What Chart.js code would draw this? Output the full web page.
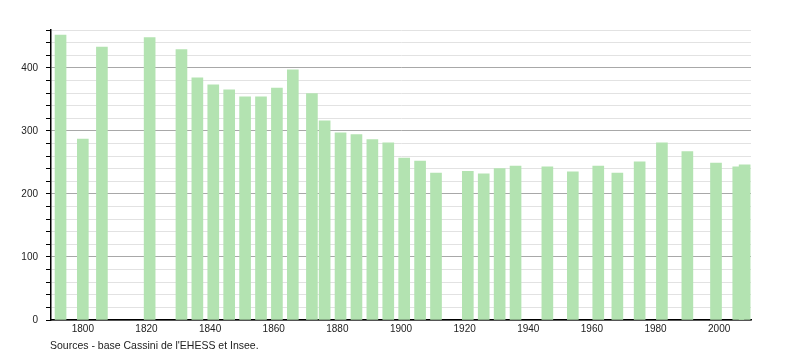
<!DOCTYPE html>
<html>
<head>
<meta charset="utf-8">
<script src="https://cdn.jsdelivr.net/npm/chart.js@4/dist/chart.umd.min.js"></script>
<style>
  html, body { margin: 0; padding: 0; background: #fff; }
</style>
</head>
<body>
<canvas id="myChart" width="800" height="350"></canvas>
<script>
let years = [1793, 1800, 1806, 1821, 1831, 1836, 1841, 1846, 1851, 1856, 1861, 1866, 1872, 1876, 1881, 1886, 1891, 1896, 1901, 1906, 1911, 1921, 1926, 1931, 1936, 1946, 1954, 1962, 1968, 1975, 1982, 1990, 1999, 2006, 2008];
let population = [452, 287, 433, 448, 429, 384, 373, 365, 354, 354, 368, 397, 359, 316, 297, 294, 286, 281, 257, 252, 233, 236, 232, 240, 244, 243, 235, 244, 233, 251, 281, 267, 249, 243, 246];
let yearTicks = [1800, 1820, 1840, 1860, 1880, 1900, 1920, 1940, 1960, 1980, 2000];
let sourceText = "Sources - base Cassini de l'EHESS et Insee.";

let points = years.map((y, i) => ({ x: y, y: population[i] }));
let fontFamily = '"Liberation Sans", Arial, sans-serif';

const sourcePlugin = {
    id: 'source',
    afterDraw(chart) {
        let c = chart.ctx;
        c.save();
        c.font = '10.5px ' + fontFamily;
        c.fillStyle = '#222';
        c.textBaseline = 'middle';
        c.fillText(sourceText, 50, 346);
        c.restore();
    }
};

let ctx = document.getElementById('myChart').getContext('2d');
var myChart = new Chart(ctx, {
    type: 'bar',
    data: {
        datasets: [{
            data: points,
            backgroundColor: '#b3e3b1',
            barThickness: 11,
            grouped: false
        }]
    },
    options: {
        responsive: false,
        animation: false,
        layout: { padding: { left: 0, right: 49, top: 30, bottom: 0 } },
        plugins: {
            legend: { display: false },
            tooltip: { enabled: false }
        },
        scales: {
            x: {
                type: 'linear',
                min: 1790,
                max: 2010,
                offset: false,
                afterBuildTicks: (axis) => { axis.ticks = yearTicks.map(v => ({ value: v })); },
                afterFit: (axis) => { axis.height = 30; },
                grid: { display: false, drawTicks: false },
                border: { color: '#000', width: 1.5 },
                ticks: {
                    padding: 3,
                    maxRotation: 0,
                    autoSkip: false,
                    color: '#222',
                    font: { family: fontFamily, size: 10 },
                    callback: (v) => String(v)
                }
            },
            y: {
                min: 0,
                max: 460,
                afterFit: (axis) => { axis.width = 51; },
                grid: {
                    color: (c) => (c.tick.value % 100 === 0 ? '#a8a8a8' : '#e2e2e2'),
                    tickColor: '#000',
                    tickLength: 5
                },
                border: { color: '#000', width: 1.5 },
                ticks: {
                    stepSize: 20,
                    autoSkip: false,
                    padding: 8,
                    color: '#222',
                    font: { family: fontFamily, size: 10 },
                    callback: (v) => (v % 100 === 0 ? String(v) : '')
                }
            }
        }
    },
    plugins: [sourcePlugin]
});
</script>
</body>
</html>
